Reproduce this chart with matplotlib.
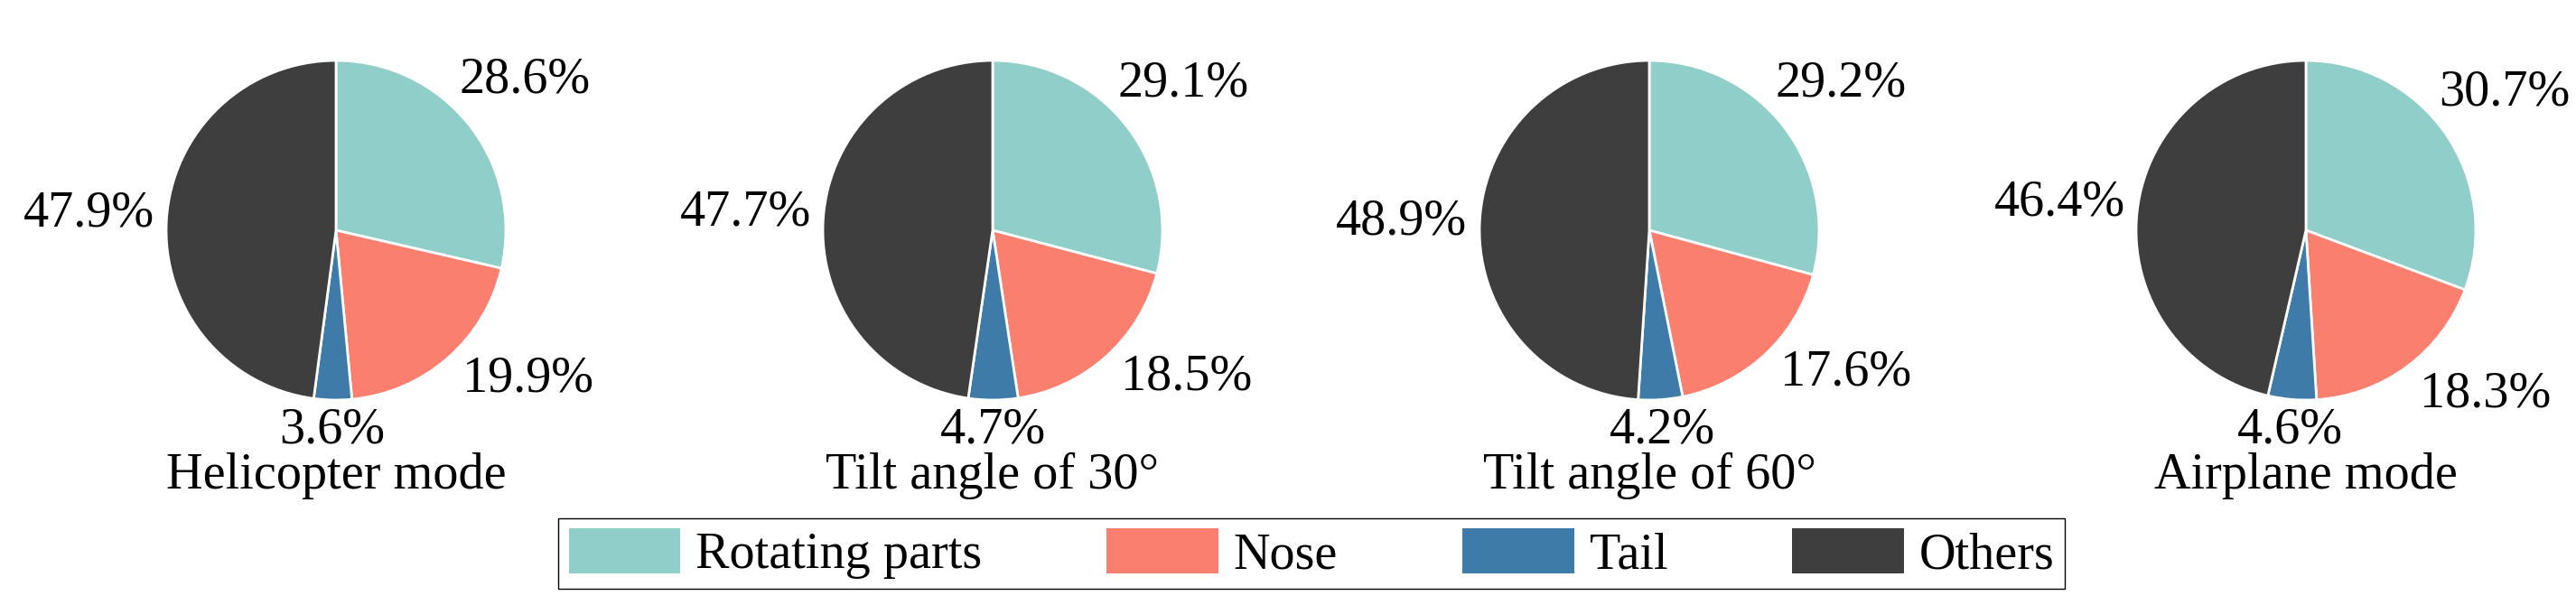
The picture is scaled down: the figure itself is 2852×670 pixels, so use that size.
import matplotlib
matplotlib.use('Agg')
import matplotlib.pyplot as plt
import numpy as np

plt.rcParams['font.family'] = ['Liberation Serif', 'DejaVu Serif']

# data
parts = ['Rotating parts', 'Nose', 'Tail', 'Others']
modes = ['Helicopter mode', 'Tilt angle of 30\u00b0', 'Tilt angle of 60\u00b0', 'Airplane mode']
helicopter = [28.6, 19.9, 3.6, 47.9]
tilt_30 = [29.1, 18.5, 4.7, 47.7]
tilt_60 = [29.2, 17.6, 4.2, 48.9]
airplane = [30.7, 18.3, 4.6, 46.4]
shares = [helicopter, tilt_30, tilt_60, airplane]

colors = ['#90CFC9', '#FA7F6F', '#3E7BA9', '#3E3E3E']

# label placement per category: distance (in radii) and angle nudge (deg)
label_dist = [1.42, 1.43, 1.18, 1.46]
label_nudge = [0, 11, 0, 0]

W, H = 2852, 670
fig = plt.figure(figsize=(W / 100, H / 100), dpi=100)

R = 188          # pie radius in pixels
cy = 255
fs = 40.5

wedges = None
for i, (mode, vals) in enumerate(zip(modes, shares)):
    cx = 372 + i * 727
    ax = fig.add_axes([(cx - R) / W, (H - cy - R) / H, 2 * R / W, 2 * R / H])
    w, _ = ax.pie(vals, colors=colors, startangle=90, counterclock=False,
                  radius=1, wedgeprops=dict(edgecolor='white', linewidth=2))
    ax.set_xlim(-1, 1)
    ax.set_ylim(-1, 1)
    if wedges is None:
        wedges = w

    # percentage labels around the pie
    for k, (wd, v) in enumerate(zip(w, vals)):
        mid = np.deg2rad((wd.theta1 + wd.theta2) / 2 + label_nudge[k])
        d = label_dist[k]
        ax.text(d * np.cos(mid), d * np.sin(mid), f'{v:.1f}%',
                ha='center', va='center', fontsize=fs)

    ax.text(0, -272 / R, mode, ha='center', va='center', fontsize=fs)

leg = fig.legend(wedges, parts, loc='center', ncol=4,
                 bbox_to_anchor=(1452 / W, 1 - 613 / H),
                 fontsize=fs, frameon=True, fancybox=False,
                 edgecolor='black', framealpha=1,
                 handlelength=2.2, handleheight=1.0, handletextpad=0.3,
                 columnspacing=2.45, borderpad=0.2, borderaxespad=0)
for h in leg.legend_handles:
    h.set_edgecolor('none')

fig.savefig('out.png', dpi=100)
